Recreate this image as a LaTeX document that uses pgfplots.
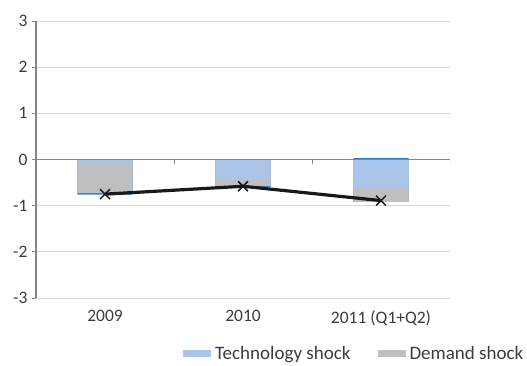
\documentclass[border=0pt]{standalone}
\usepackage{fontspec}
\setmainfont{Carlito}
\usepackage{pgfplots}
\usepackage{pgfplotstable}
\pgfplotsset{compat=1.18}

\definecolor{techblue}{RGB}{169,196,230}
\definecolor{demgray}{RGB}{191,191,191}
\definecolor{otherblue}{RGB}{52,128,199}
\definecolor{axgray}{RGB}{134,134,134}
\definecolor{gridgray}{RGB}{217,217,217}
\definecolor{labelgray}{RGB}{60,60,60}

% contributions by year (0 = 2009, 1 = 2010, 2 = 2011 H1)
\pgfplotstableread{
x  tech   demand  otherneg  otherpos  total
0  -0.08  -0.65   -0.03     0.00      -0.75
1  -0.43  -0.14   -0.03     0.00      -0.58
2  -0.60  -0.32    0.00     0.03      -0.89
}\shocks

\begin{document}
\begin{tikzpicture}[font=\fontsize{17.5}{21}\selectfont]
\begin{axis}[
  at={(0,0)}, anchor=south west,
  scale only axis, width=414pt, height=277pt,
  xmin=-0.5, xmax=2.5, ymin=-3, ymax=3,
  ybar, bar width=0.4,
  axis lines=left, axis line style={-},
  x axis line style={draw=none},
  y axis line style={draw=axgray, line width=1.2pt},
  xtick={0,1,2}, xticklabels={2009,2010,2011 (Q1+Q2)},
  major x tick style={draw=none},
  ytick={-3,-2,...,3},
  tick align=outside, major tick length=4pt,
  major y tick style={draw=axgray, line width=1pt},
  ymajorgrids, grid style={gridgray, line width=1pt},
  /pgf/number format/assume math mode=true,
  yticklabel style={font=\fontsize{17.5}{21}\selectfont, xshift=-1pt, text=labelgray},
  xticklabel style={font=\fontsize{17.5}{21}\selectfont, yshift=-5pt, text=labelgray},
  legend style={draw=none, fill=none, inner sep=0pt,
    at={(axis description cs:0.355,-0.201)}, anchor=west,
    font=\fontsize{19}{23}\selectfont, text=labelgray,
    /tikz/every odd column/.append style={column sep=2pt},
    /tikz/every even column/.append style={column sep=25pt}},
  legend columns=2,
  legend image code/.code={\fill[#1] (0pt,-3.5pt) rectangle (28pt,3.5pt);},
]
\addlegendimage{fill=techblue, draw=none}
\addlegendentry{Technology shock}
\addlegendimage{fill=demgray, draw=none}
\addlegendentry{Demand shock}

% bars overlaid from zero, longest cumulative segment first
\addplot[forget plot, fill=otherblue, draw=none, bar shift=0pt]
  table[x=x, y=otherpos] {\shocks};
\addplot[forget plot, fill=otherblue, draw=none, bar shift=0pt]
  table[x=x, y expr=\thisrow{tech}+\thisrow{demand}+\thisrow{otherneg}] {\shocks};
\addplot[forget plot, fill=demgray, draw=none, bar shift=0pt]
  table[x=x, y expr=\thisrow{tech}+\thisrow{demand}] {\shocks};
\addplot[forget plot, fill=techblue, draw=none, bar shift=0pt]
  table[x=x, y=tech] {\shocks};

% zero line with category separators
\draw[axgray, line width=1.3pt] (axis cs:-0.5,0) -- (axis cs:2.5,0);
\pgfplotsinvokeforeach{0.5,1.5,2.5}{
  \draw[axgray, line width=1pt] (axis cs:#1,0) -- ([yshift=-4pt]axis cs:#1,0);
}

% total effect
\addplot[forget plot, sharp plot, black!90, line width=3.2pt,
  mark=x, mark size=7pt, mark options={line width=1.5pt}]
  table[x=x, y=total] {\shocks};
\end{axis}
\pgfresetboundingbox
\path (-36pt,-67pt) rectangle (491pt,298pt);
\end{tikzpicture}
\end{document}
